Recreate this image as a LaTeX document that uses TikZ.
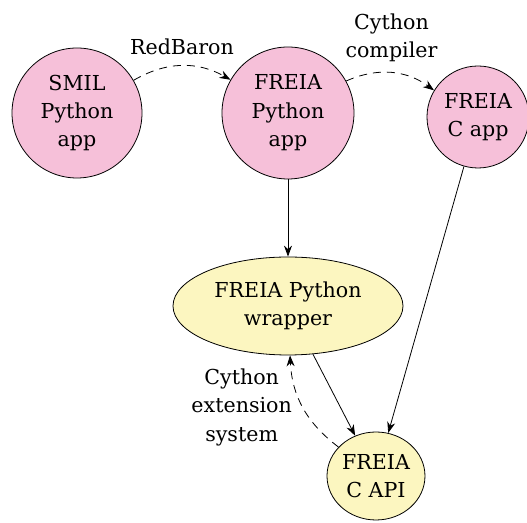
\documentclass[tikz,border=0pt]{standalone}
\usepackage{fontspec}
\setmainfont{DejaVu Serif}
\usetikzlibrary{arrows.meta,shapes.geometric}
\definecolor{apppink}{RGB}{246,192,217}
\definecolor{libyellow}{RGB}{252,246,192}
\tikzset{
  txt/.style={align=center,font=\fontsize{10.3}{14.2}\selectfont},
  app/.style={txt,circle,draw=black,fill=apppink,inner sep=0pt},
  lib/.style={txt,ellipse,draw=black,fill=libyellow,inner sep=0pt},
  conv/.style={dash pattern=on 4pt off 3pt,-{Stealth[length=5.5pt,width=4pt]}},
  link/.style={-{Stealth[length=5.5pt,width=4pt]}},
}
\begin{document}
\begin{tikzpicture}[x=0.5pt,y=-0.5pt,line width=0.4pt]
\useasboundingbox (0,0) rectangle (527,523);
\begin{scope}
\clip (0,0) rectangle (527,523);
\node[app,minimum size=65pt] (smil) at (77,113) {SMIL\\Python\\app};
\node[app,minimum size=66pt] (fpy) at (288,113) {FREIA\\Python\\app};
\node[app,minimum size=51pt] (fc) at (478,117) {FREIA\\C app};
\node[lib,minimum width=115pt,minimum height=49pt] (wrap) at (288,306) {FREIA Python\\wrapper};
\node[lib,minimum width=49pt,minimum height=44pt] (capi) at (376,476) {FREIA\\C API};
\end{scope}
\draw[conv] (smil) to[bend left=30] node[txt,above=2pt] (rb) {RedBaron} (fpy);
\draw[conv] (fpy) to[bend left=30] node[txt,above=2pt] (cc) {Cython\\compiler} (fc);
\draw[link] (fpy) -- (wrap);
\draw[link] (fc) -- (capi);
\draw[link] (wrap) -- (capi);
\draw[conv] (capi) to[bend left=25] node[txt,left=2pt] (ces) {Cython\\extension\\system} (wrap);
\end{tikzpicture}
\end{document}
